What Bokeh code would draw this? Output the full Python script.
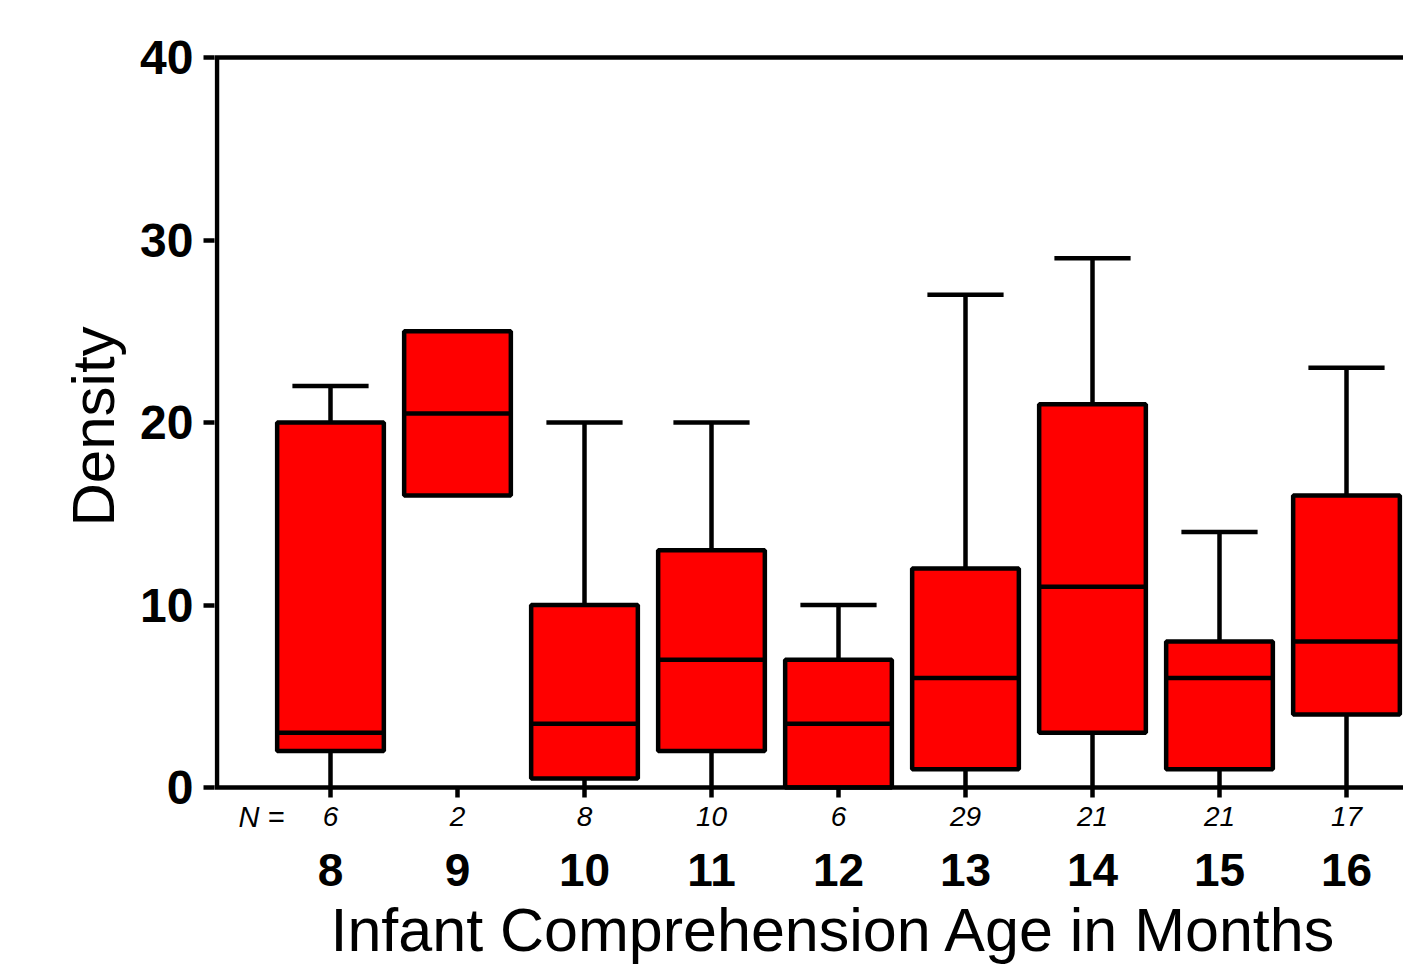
from bokeh.plotting import figure
from bokeh.models import Range1d, LinearAxis, FixedTicker, Span, Title, ColumnDataSource
from bokeh.core.properties import value
from bokeh.embed import file_html
from bokeh.resources import INLINE

# ---- data ----
ages = [8, 9, 10, 11, 12, 13, 14, 15, 16]
n_counts = [6, 2, 8, 10, 6, 29, 21, 21, 17]
whisker_low = [0, 16, 0, 0, 0, 0, 0, 0, 0]
q1 = [2, 16, 0.5, 2, 0, 1, 3, 1, 4]
median = [3, 20.5, 3.5, 7, 3.5, 6, 11, 6, 8]
q3 = [20, 25, 10, 13, 7, 12, 21, 8, 16]
whisker_high = [22, 25, 20, 20, 10, 27, 29, 14, 23]
y_ticks = [0, 10, 20, 30, 40]

# ---- geometry / style constants ----
FONT = "Liberation Sans"
LW = 4.5
BOX_W = 0.84
CAP_W = 0.6
PX_X = 127.0          # px per x unit
PX_Y = 18.25          # px per y unit
FRAME_L, FRAME_R = 214, 1403
FRAME_T, FRAME_B = 52, 828
Y0_PX = 787           # pixel row of y = 0
X8_PX = 330           # pixel column of first category

x_start = ages[0] - (X8_PX - FRAME_L) / PX_X
x_end = x_start + (FRAME_R - FRAME_L) / PX_X
y_end = 40 + (Y0_PX - PX_Y * 40 - FRAME_T) / PX_Y
y_start = -(FRAME_B - Y0_PX) / PX_Y
axis_x = ages[0] - (X8_PX - 216.5) / PX_X
n_row_y = -(816 - Y0_PX) / PX_Y
tick_len = 10 / PX_Y
n_eq_x = ages[0] - (X8_PX - 261) / PX_X

p = figure(width=1403, height=969, output_backend="svg", toolbar_location=None,
           x_range=Range1d(x_start, x_end), y_range=Range1d(y_start, y_end),
           x_axis_location=None, y_axis_location=None,
           min_border_left=FRAME_L, min_border_top=FRAME_T, min_border_right=0,
           min_border_bottom=969 - FRAME_B)
p.grid.visible = False
p.outline_line_color = None
p.background_fill_color = "white"
p.border_fill_color = "white"

src = ColumnDataSource(dict(x=ages, lo=whisker_low, q1=q1, med=median, q3=q3, hi=whisker_high,
                            n=[str(n) for n in n_counts]))

# axis lines drawn inside the frame
p.segment(x0=[axis_x], y0=[0], x1=[axis_x], y1=[40], line_color="black", line_width=LW)
p.add_layout(Span(location=0, dimension="width", line_color="black", line_width=LW))
p.add_layout(Span(location=40, dimension="width", line_color="black", line_width=LW))

# x tick marks below the zero line
p.segment(x0="x", y0=0, x1="x", y1=-tick_len, source=src, line_color="black", line_width=LW)

# whiskers
p.segment(x0="x", y0="q3", x1="x", y1="hi", source=src, line_color="black", line_width=LW)
p.segment(x0="x", y0="lo", x1="x", y1="q1", source=src, line_color="black", line_width=LW)

# caps (only where a whisker exists)
cap_x = [a for a, h, t in zip(ages, whisker_high, q3) if h > t]
cap_y = [h for h, t in zip(whisker_high, q3) if h > t]
p.segment(x0=[a - CAP_W / 2 for a in cap_x], y0=cap_y, x1=[a + CAP_W / 2 for a in cap_x], y1=cap_y,
          line_color="black", line_width=LW)

# boxes
p.vbar(x="x", width=BOX_W, bottom="q1", top="q3", source=src,
       fill_color="#ff0000", line_color="black", line_width=LW)

# medians
p.segment(x0=[a - BOX_W / 2 for a in ages], y0=median, x1=[a + BOX_W / 2 for a in ages], y1=median,
          line_color="black", line_width=LW)

# N row
p.text(x="x", y=n_row_y, text="n", source=src, text_font=value(FONT), text_font_style="italic",
       text_font_size="28px", text_color="black", text_align="center", text_baseline="middle")
p.text(x=[n_eq_x], y=[n_row_y], text=["N ="], text_font=value(FONT), text_font_style="italic",
       text_font_size="29px", text_color="black", text_align="center", text_baseline="middle")

# y axis (ticks + labels only)
yax = LinearAxis(ticker=FixedTicker(ticks=y_ticks))
yax.axis_line_color = None
yax.major_tick_line_width = LW
yax.major_tick_line_color = "black"
yax.major_tick_out = 11
yax.major_tick_in = 0
yax.minor_tick_line_color = None
yax.major_label_text_font = FONT
yax.major_label_text_font_style = "bold"
yax.major_label_text_font_size = "48px"
yax.major_label_text_color = "black"
yax.major_label_standoff = 10
p.add_layout(yax, "left")

# x axis with ages
xax = LinearAxis(ticker=FixedTicker(ticks=ages))
xax.axis_line_color = None
xax.major_tick_line_color = None
xax.minor_tick_line_color = None
xax.major_tick_out = 0
xax.major_tick_in = 0
xax.major_label_text_font = FONT
xax.major_label_text_font_style = "bold"
xax.major_label_text_font_size = "46px"
xax.major_label_text_color = "black"
xax.major_label_standoff = 25
p.add_layout(xax, "below")

p.add_layout(Title(text="Infant Comprehension Age in Months", align="left", offset=330 - FRAME_L,
                   standoff=10, text_font=FONT, text_font_style="normal", text_font_size="61px",
                   text_color="black"), "below")
p.add_layout(Title(text="Density", align="left", offset=FRAME_B - 526, standoff=22,
                   text_font=FONT, text_font_style="normal", text_font_size="60px",
                   text_color="black"), "left")

open("out.html", "w").write(file_html(p, INLINE))
